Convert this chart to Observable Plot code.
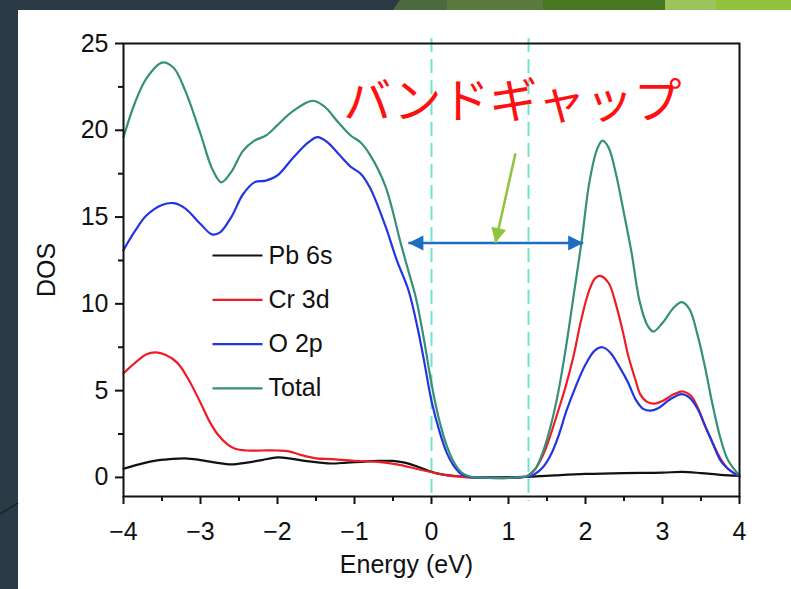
<!DOCTYPE html>
<html>
<head>
<meta charset="utf-8">
<script src="https://cdn.jsdelivr.net/npm/d3@7"></script>
<script src="https://cdn.jsdelivr.net/npm/@observablehq/plot@0.6"></script>
<style>
  html, body { margin: 0; padding: 0; }
  #wrap { position: relative; width: 791px; height: 589px; background: #2b3b45; overflow: hidden; }
  #panel { position: absolute; left: 18px; top: 10px; right: 0; bottom: 0; background: #ffffff; }
  #deco { position: absolute; left: 0; top: 0; }
  #chart { position: absolute; left: 0; top: 0; }
</style>
</head>
<body>
<div id="wrap">
  <div id="panel"></div>
  <svg id="deco" width="791" height="589">
    <polygon points="393,10 400,0 447,0 447,10" fill="#4b6a3f"/>
    <rect x="447" y="0" width="96" height="10" fill="#5c7a3b"/>
    <rect x="543" y="0" width="122" height="10" fill="#457820"/>
    <rect x="665" y="0" width="51" height="10" fill="#9bc45c"/>
    <rect x="716" y="0" width="75" height="10" fill="#90c23a"/>
    <line x1="0" y1="514" x2="18" y2="503" stroke="#1c2328" stroke-width="1.5"/>
  </svg>
  <div id="chart"></div>
</div>
<script>
// ---- data ----
const seriesNames = ["Pb 6s", "Cr 3d", "O 2p", "Total"];
const seriesColors = ["#111111", "#ee1c25", "#2236e0", "#35907a"];

const pbEnergy = [-4.0,-3.8,-3.6,-3.4,-3.2,-3.0,-2.8,-2.6,-2.4,-2.2,-2.0,-1.85,-1.65,-1.45,-1.3,-1.1,-0.9,-0.7,-0.5,-0.35,-0.2,-0.05,0.1,0.3,0.5,0.8,1.1,1.3,1.6,2.0,2.5,3.0,3.25,3.5,3.75,4.0];
const pbDos    = [0.5,0.75,0.95,1.05,1.1,1.0,0.85,0.75,0.85,1.0,1.15,1.1,0.95,0.85,0.8,0.85,0.9,0.95,0.95,0.85,0.65,0.4,0.2,0.08,0.02,0,0.02,0.05,0.12,0.2,0.25,0.27,0.32,0.25,0.15,0.08];

const crEnergy = [-4.0,-3.85,-3.7,-3.58,-3.45,-3.3,-3.15,-3.0,-2.88,-2.78,-2.65,-2.55,-2.4,-2.2,-2.0,-1.85,-1.7,-1.5,-1.3,-1.0,-0.7,-0.45,-0.2,0,0.2,0.4,0.5,1.15,1.25,1.35,1.45,1.55,1.65,1.74,1.85,1.94,2.05,2.13,2.2,2.3,2.4,2.5,2.55,2.65,2.71,2.8,2.9,3.0,3.15,3.27,3.37,3.47,3.55,3.65,3.75,3.85,4.0];
const crDos    = [6.0,6.6,7.1,7.2,7.05,6.6,5.6,4.3,3.2,2.5,1.9,1.65,1.55,1.55,1.55,1.5,1.3,1.1,1.05,0.95,0.9,0.75,0.5,0.3,0.12,0.03,0,0,0.1,0.5,1.3,2.5,3.9,5.2,7.1,9.0,10.8,11.5,11.6,11.2,9.9,8.1,7.1,5.6,4.8,4.35,4.25,4.4,4.8,4.95,4.7,3.9,3.0,2.0,1.1,0.5,0.05];

const oEnergy = [-4.0,-3.85,-3.7,-3.5,-3.35,-3.2,-3.0,-2.85,-2.75,-2.6,-2.45,-2.3,-2.15,-2.0,-1.8,-1.6,-1.48,-1.35,-1.2,-1.05,-0.92,-0.8,-0.6,-0.45,-0.3,-0.18,-0.1,0,0.1,0.2,0.3,0.4,0.5,0.6,1.15,1.3,1.45,1.55,1.65,1.75,1.87,2.0,2.12,2.22,2.32,2.45,2.55,2.65,2.75,2.85,2.95,3.1,3.25,3.35,3.45,3.55,3.65,3.75,3.85,4.0];
const oDos    = [13.1,14.2,15.1,15.7,15.8,15.5,14.6,14.0,14.1,15.0,16.3,17.0,17.1,17.4,18.4,19.3,19.6,19.3,18.6,17.9,17.5,16.7,14.5,12.5,10.8,8.6,6.8,4.4,2.7,1.4,0.6,0.15,0.02,0,0,0.1,0.6,1.3,2.4,3.8,5.2,6.5,7.3,7.5,7.2,6.3,5.5,4.5,3.95,3.85,4.0,4.5,4.8,4.6,4.0,3.0,2.0,1.0,0.5,0.05];

const totalEnergy = [-4.0,-3.85,-3.7,-3.5,-3.35,-3.2,-3.0,-2.85,-2.73,-2.6,-2.45,-2.3,-2.15,-2.0,-1.8,-1.55,-1.4,-1.2,-1.05,-0.92,-0.8,-0.6,-0.4,-0.3,-0.2,-0.1,0,0.1,0.2,0.3,0.4,0.5,0.6,1.1,1.25,1.35,1.45,1.55,1.65,1.75,1.85,1.95,2.05,2.15,2.22,2.3,2.4,2.5,2.6,2.7,2.8,2.88,3.0,3.15,3.25,3.35,3.45,3.55,3.65,3.75,3.85,4.0];
const totalDos    = [19.6,21.6,23.0,23.9,23.6,22.3,19.8,17.8,17.0,17.6,18.8,19.4,19.7,20.3,21.1,21.7,21.4,20.4,19.7,19.3,18.6,16.8,13.5,11.9,10.3,8.0,5.4,3.3,1.8,0.8,0.25,0.05,0,0,0.1,0.5,1.5,3.0,5.0,7.6,10.6,13.6,17.0,18.9,19.4,19.0,17.4,15.2,12.9,10.2,8.8,8.4,8.9,9.8,10.1,9.7,8.3,6.4,4.2,2.3,1.0,0.1];

const xMajorTicks = [-4, -3, -2, -1, 0, 1, 2, 3, 4];
const xMinorTicks = [-3.5, -2.5, -1.5, -0.5, 0.5, 1.5, 2.5, 3.5];
const yMajorTicks = [0, 5, 10, 15, 20, 25];
const yMinorTicks = [2.5, 7.5, 12.5, 17.5, 22.5];

const bandEdges = [0, 1.26];                 // dashed lines (eV)
const gapArrow = {from: -0.30, to: 1.97, dos: 13.5};
const pointer = {x1: 1.09, y1: 18.67, x2: 0.83, y2: 13.5};
const gapLabel = {text: "バンドギャップ", energy: 1.05, dos: 21.6};
const xTitle = "Energy (eV)";
const yTitle = "DOS";

// ---- build table ----
const seriesData = [[pbEnergy, pbDos], [crEnergy, crDos], [oEnergy, oDos], [totalEnergy, totalDos]];
const rows = [];
seriesData.forEach(([es, vs], i) => es.forEach((e, j) => rows.push({series: seriesNames[i], energy: e, dos: vs[j]})));

const fmt = d => d < 0 ? "\u2212" + (-d) : String(d);
const headShape = {draw(c) { c.moveTo(0, -10); c.lineTo(7.5, 5); c.lineTo(-7.5, 5); c.closePath(); }};
const legendLine = {draw(c) { c.moveTo(-25, 0); c.lineTo(25, 0); }};

const legendMarks = seriesNames.flatMap((name, i) => [
  Plot.dot([name], {frameAnchor: "top-left", dx: 114, dy: 212 + i * 44.3, symbol: legendLine, fill: "none", stroke: seriesColors[i], strokeWidth: 2.2}),
  Plot.text([name], {frameAnchor: "top-left", dx: 145, dy: 212 + i * 44.3, text: d => d, textAnchor: "start", lineAnchor: "middle", fontSize: 25, fill: "#111"})
]);

const chart = Plot.plot({
  width: 791,
  height: 589,
  marginLeft: 123,
  marginRight: 52,
  marginTop: 43,
  marginBottom: 93,
  style: {background: "transparent", fontFamily: "'Liberation Sans', Arial, sans-serif", color: "#111", overflow: "visible"},
  x: {domain: [-4, 4], label: null},
  y: {domain: [-1.1, 25], label: null},
  color: {domain: seriesNames, range: seriesColors},
  marks: [
    Plot.ruleX(bandEdges, {x: d => d, stroke: "#6fe3cb", strokeWidth: 2, strokeDasharray: "14,7", insetTop: -5, insetBottom: -5}),
    Plot.line(rows, {x: "energy", y: "dos", z: "series", stroke: "series", curve: "catmull-rom", strokeWidth: 2.2}),
    Plot.frame({stroke: "#111", strokeWidth: 2}),
    Plot.axisX(xMajorTicks, {tickSize: 8, tickPadding: 18, fontSize: 25, strokeWidth: 2, tickFormat: fmt, label: null}),
    Plot.axisX(xMinorTicks, {tickSize: 5, strokeWidth: 2, tickFormat: () => "", label: null}),
    Plot.axisY(yMajorTicks, {tickSize: 8, tickPadding: 7, fontSize: 25, strokeWidth: 2, tickFormat: fmt, label: null}),
    Plot.axisY(yMinorTicks, {tickSize: 5, strokeWidth: 2, tickFormat: () => "", label: null}),
    Plot.text([yTitle], {frameAnchor: "left", dx: -77, rotate: -90, text: d => d, textAnchor: "middle", lineAnchor: "middle", fontSize: 25, fill: "#111"}),
    Plot.text([xTitle], {frameAnchor: "bottom", dx: -25, dy: 68, text: d => d, textAnchor: "middle", lineAnchor: "middle", fontSize: 25, fill: "#111"}),
    ...legendMarks,
    // band gap double arrow
    Plot.link([gapArrow], {x1: "from", x2: "to", y1: "dos", y2: "dos", stroke: "#1b6ec2", strokeWidth: 2.5}),
    Plot.dot([gapArrow], {x: "from", y: "dos", symbol: headShape, fill: "#1b6ec2", stroke: "none", rotate: -90, dx: 10}),
    Plot.dot([gapArrow], {x: "to", y: "dos", symbol: headShape, fill: "#1b6ec2", stroke: "none", rotate: 90, dx: -10}),
    // pointer arrow
    Plot.link([pointer], {x1: "x1", y1: "y1", x2: "x2", y2: "y2", stroke: "#8fc43c", strokeWidth: 2.5}),
    Plot.dot([pointer], {x: "x2", y: "y2", symbol: headShape, fill: "#8fc43c", stroke: "none", rotate: 192.5, dx: 2.2, dy: -9.8}),
    // label
    Plot.text([gapLabel], {x: "energy", y: "dos", text: "text", fontSize: 48, fill: "#ff1010", fontFamily: "'Noto Sans CJK JP', sans-serif", textAnchor: "middle", lineAnchor: "middle"})
  ]
});
document.getElementById("chart").appendChild(chart);
</script>
</body>
</html>
